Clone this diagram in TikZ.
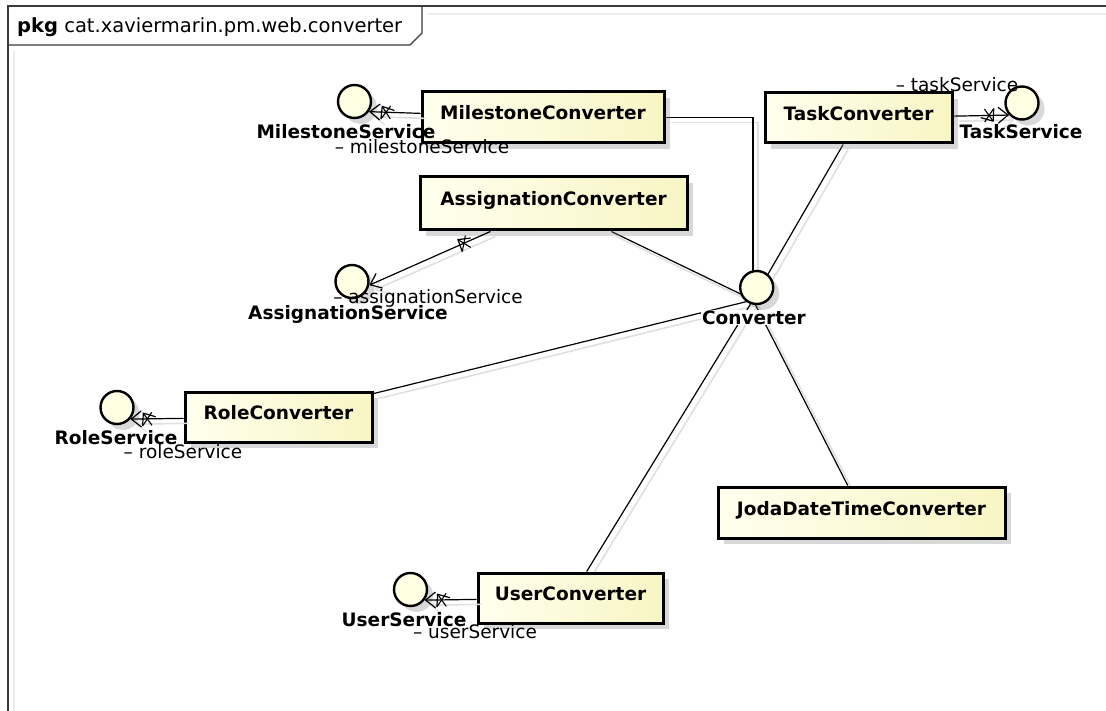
\documentclass[tikz,border=0pt]{standalone}
\usepackage{fontspec}
\setmainfont{DejaVu Sans}
\usetikzlibrary{arrows.meta,shadows,decorations.markings}
\definecolor{clsL}{HTML}{FFFFEE}
\definecolor{clsR}{HTML}{F8F5C4}
\definecolor{ifc}{HTML}{FFFFE4}
\definecolor{frm}{HTML}{3A3A3A}
\pgfdeclarelayer{back}
\pgfdeclarelayer{wires}
\pgfsetlayers{back,wires,main}
\begin{document}
\begin{tikzpicture}[x=1pt,y=-1pt,
  shadowed/.style={drop shadow={shadow xshift=6pt,shadow yshift=-6pt,fill=black!50,opacity=0.3}},
  cls/.style={rectangle,draw=black,line width=3pt,left color=clsL,right color=clsR,
    inner sep=0pt,text height=13pt,text depth=8pt,
    font=\fontsize{18.5}{20}\selectfont\bfseries,shadowed},
  iface/.style={circle,draw=black,line width=2.4pt,fill=ifc,minimum size=33pt,inner sep=0pt,shadowed},
  iname/.style={font=\fontsize{18.5}{20}\selectfont\bfseries,inner sep=0pt,text height=13pt,text depth=0pt},
  rolename/.style={font=\fontsize{18.5}{20}\selectfont,inner sep=0pt,text height=13pt,text depth=0pt},
  link/.style={draw=black,line width=1.2pt,
    preaction={draw=black!12,line width=1.6pt,transform canvas={shift={(5pt,-5pt)}}}},
  uses/.style={link,-{Straight Barb[length=10pt,width=16pt,line width=1.2pt]}},
  xmark/.style={postaction=decorate,decoration={markings,mark=at position #1 with
    {\draw[line width=1.1pt,black] (-4.5pt,-6.5pt)--(4.5pt,6.5pt) (-4.5pt,6.5pt)--(4.5pt,-6.5pt);}}}
]
\begin{pgfonlayer}{back}
  \fill[white] (0,0) rectangle (1106,711);
\end{pgfonlayer}
\useasboundingbox (0,0) rectangle (1106,711);

% package frame and its name tab
\draw[black!7,line width=2pt] (428,14) -- (1106,14) (14,51) -- (14,711);
\draw[frm,line width=2pt] (7.5,711) -- (7.5,6) -- (1106,6);
\draw[frm,line width=1.3pt] (7.5,45) -- (410,45) -- (422,33) -- (422,6);
\node[anchor=base west,inner sep=0pt,font=\fontsize{19.5}{20}\selectfont] (hdr) at (17,33)
  {\textbf{pkg} cat.xaviermarin.pm.web.converter};

% classes
\node[cls,minimum width=242pt,minimum height=51pt] (mc) at (543,117.5) {MilestoneConverter};
\node[cls,minimum width=187pt,minimum height=50pt] (tc) at (858.5,118) {TaskConverter};
\node[cls,minimum width=267pt,minimum height=53pt] (ac) at (553.5,203.5) {AssignationConverter};
\node[cls,minimum width=187pt,minimum height=50pt] (rc) at (278.5,417) {RoleConverter};
\node[cls,minimum width=185pt,minimum height=50pt] (uc) at (570.5,598) {UserConverter};
\node[cls,minimum width=287pt,minimum height=51pt] (jc) at (861.5,512.5) {JodaDateTimeConverter};

% interfaces
\node[iface] (ms) at (354.5,101.5) {};
\node[iface] (ts) at (1022,103) {};
\node[iface] (as) at (352,281.5) {};
\node[iface] (conv) at (756.7,287.5) {};
\node[iface] (rs) at (117,407.5) {};
\node[iface] (us) at (410.5,589.5) {};
\coordinate (convc) at (753,300);

% realizations of Converter
\begin{pgfonlayer}{wires}
  \draw[link] (mc.east) -| (convc);
  \draw[link] (tc) -- (convc);
  \draw[link] (ac) -- (convc);
  \draw[link] (rc) -- (convc);
  \draw[link] (uc) -- (convc);
  \draw[link] (jc) -- (convc);
\end{pgfonlayer}

% service associations
\draw[uses,xmark=-17pt] (mc) -- (ms.-35);
\draw[uses,xmark=-20pt] (tc) -- (ts.223);
\draw[uses,xmark=29pt] (ac) -- (as.-12);
\draw[uses,xmark=-17pt] (rc) -- (rs.-41);
\draw[uses,xmark=-17pt] (uc) -- (us.-37);

% interface names and role names
\node[iname,fill=white,inner sep=1pt] (convl) at (754,318) {Converter};
\node[iname] (msl) at (346,132) {MilestoneService};
\node[rolename] (msr) at (422,147) {– milestoneService};
\node[iname] (tsl) at (1021,132) {TaskService};
\node[rolename] (tsr) at (957,85) {– taskService};
\node[iname] (asl) at (348,313) {AssignationService};
\node[rolename] (asr) at (428,297) {– assignationService};
\node[iname] (rsl) at (116,438) {RoleService};
\node[rolename] (rsr) at (183,452) {– roleService};
\node[iname] (usl) at (404,620) {UserService};
\node[rolename] (usr) at (475,632) {– userService};
\end{tikzpicture}
\end{document}
